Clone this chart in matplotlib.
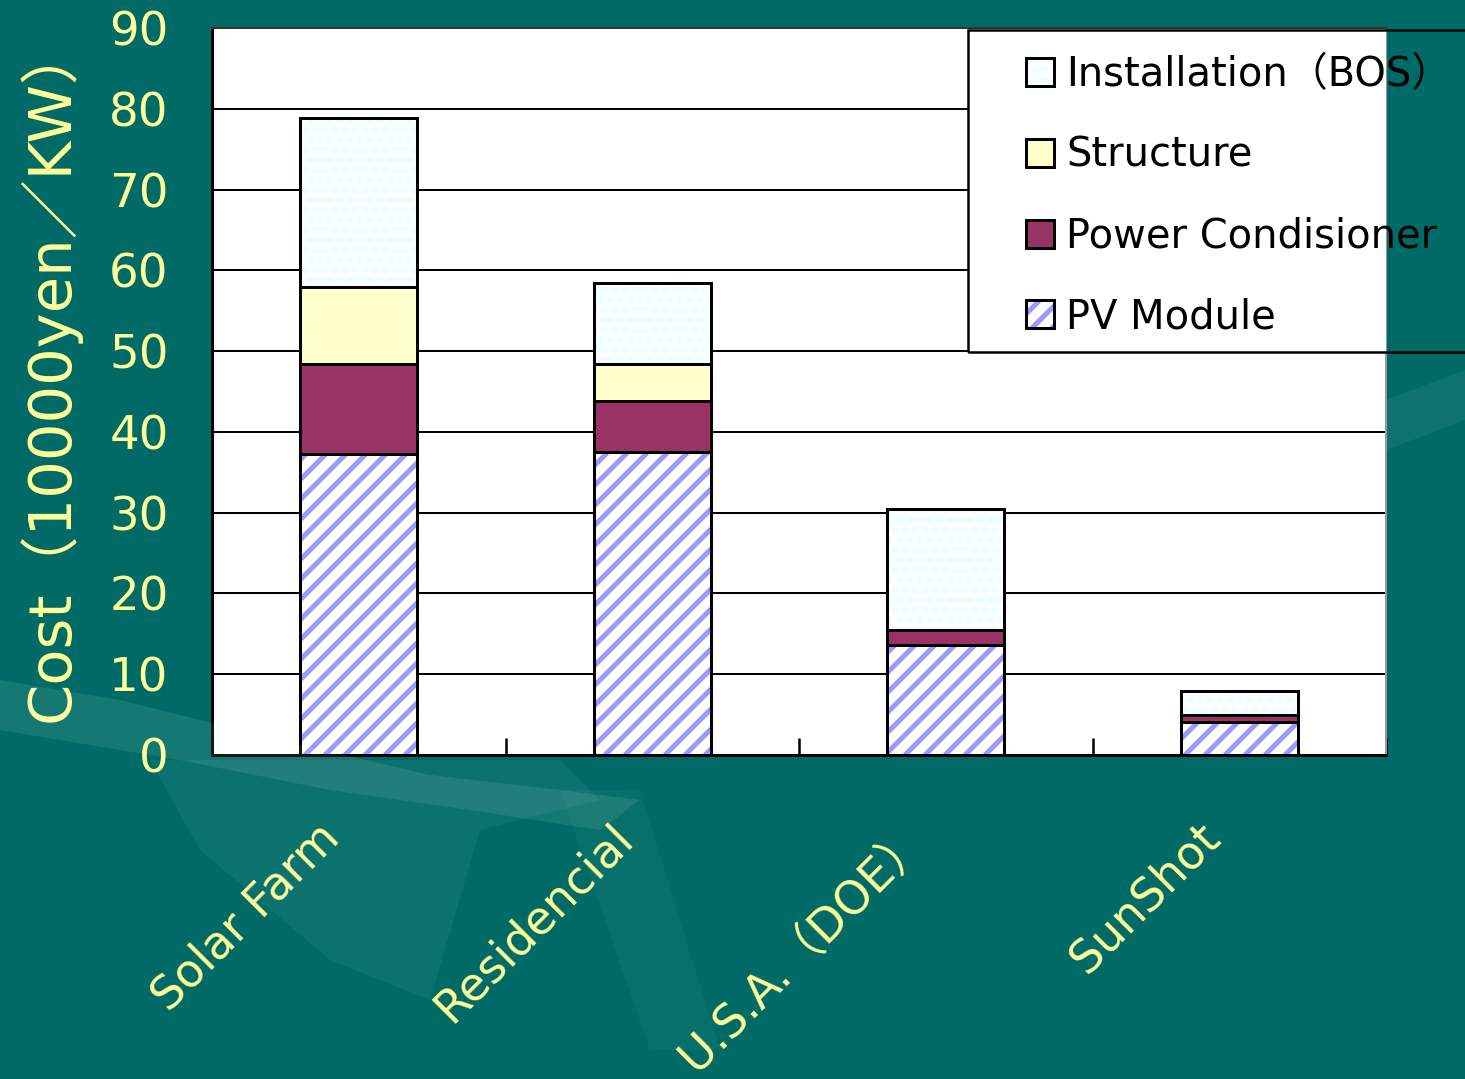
import matplotlib
matplotlib.use('Agg')
import matplotlib.pyplot as plt
import numpy as np
from matplotlib.patches import Rectangle, Polygon
from matplotlib.legend_handler import HandlerTuple
from matplotlib.transforms import ScaledTranslation

plt.rcParams['font.family'] = ['DejaVu Sans', 'Noto Sans CJK JP']
plt.rcParams['hatch.linewidth'] = 3.0

# 構成別コスト（万円/kW）
categories = ['Solar Farm', 'Residencial', 'U.S.A.（DOE）', 'SunShot']
pv_module = [37.3, 37.5, 13.6, 4.1]
power_cond = [11.1, 6.3, 1.9, 0.9]
structure = [9.5, 4.6, 0.0, 0.0]
installation = [20.9, 10.0, 15.0, 2.9]
series_names = ['PV Module', 'Power Condisioner', 'Structure', 'Installation（BOS）']
yticks = list(range(0, 100, 10))

YELLOW = '#ffff99'
BG = '#006b66'

W, H = 1465, 1079
DPI = 120
fig = plt.figure(figsize=(W / DPI, H / DPI), dpi=DPI, facecolor=BG)

# 背景の模様（薄い帯）
def px(pts):
    return [(x / W, 1 - y / H) for x, y in pts]

deco = [
    (px([(0, 680), (120, 700), (300, 745), (430, 775), (560, 790), (640, 800),
         (600, 830), (470, 810), (330, 790), (180, 760), (0, 730)]), 0.09),
    (px([(150, 760), (560, 760), (600, 800), (480, 830), (430, 1000),
         (330, 960), (200, 850)]), 0.05),
    (px([(560, 790), (640, 790), (720, 1050), (650, 1050)]), 0.035),
    (px([(1386, 400), (1465, 370), (1465, 420), (1386, 450)]), 0.06),
]
for pts, a in deco:
    fig.patches.append(Polygon(pts, closed=True, transform=fig.transFigure,
                               facecolor='white', edgecolor='none', alpha=a, zorder=0))

ax = fig.add_axes([212 / W, 1 - 755 / H, (1386 - 212) / W, (755 - 28) / H])
ax.set_facecolor('white')

x = np.arange(len(categories)) + 0.5
width = 0.4
layers = [
    (pv_module, dict(facecolor='white', edgecolor='#9999ff', hatch='//')),
    (power_cond, dict(facecolor='#993366', edgecolor='#993366')),
    (structure, dict(facecolor='#ffffcc', edgecolor='#ffffcc')),
    (installation, dict(facecolor='white', edgecolor='#e6ffff', hatch='..')),
]

bottom = np.zeros(len(categories))
handles = []
for (vals, style), name in zip(layers, series_names):
    vals = np.array(vals)
    b1 = ax.bar(x, vals, width, bottom=bottom, linewidth=0, zorder=3, **style)
    b2 = ax.bar(x, vals, width, bottom=bottom, fill=False, edgecolor='black',
                linewidth=1.8, zorder=4)
    handles.append((b1.patches[0], b2.patches[0]))
    bottom += vals

ax.set_xlim(0, 4)
ax.set_ylim(0, 90)
ax.set_yticks(yticks)
ax.yaxis.grid(True, color='black', linewidth=1.2, zorder=1)
ax.set_axisbelow(True)
ax.tick_params(axis='y', length=0, pad=26, labelsize=28, labelcolor=YELLOW)

ax.set_xticks(range(5))
ax.set_xticklabels([])
ax.tick_params(axis='x', which='major', direction='in', length=10, width=1.5)
ax.set_xticks(x, minor=True)
ax.set_xticklabels(categories, minor=True, rotation=45, ha='right', va='top',
                   rotation_mode='anchor', fontsize=27.5, color=YELLOW)
ax.tick_params(axis='x', which='minor', length=0, pad=36)
for lab in ax.get_xticklabels(minor=True):
    lab.set_transform(lab.get_transform() + ScaledTranslation(-42 / DPI, 0, fig.dpi_scale_trans))

ax.set_ylabel('Cost（10000yen／KW）', fontsize=35.5, color=YELLOW)
ax.yaxis.set_label_coords(-0.112, 0.527)

for s in ['left', 'bottom']:
    ax.spines[s].set_linewidth(1.8)
    ax.spines[s].set_color('black')
ax.spines['top'].set_color('#333333')
ax.spines['top'].set_linewidth(1.2)
ax.spines['right'].set_color('#999999')
ax.spines['right'].set_linewidth(1.2)

# 凡例：白地はプロット領域内だけ、枠線は右端まで
lx0, ly0, ly1 = 968, 30, 352
fill = Rectangle((lx0 / W, 1 - ly1 / H), (W - lx0) / W, (ly1 - ly0) / H,
                 transform=fig.transFigure, facecolor='white', edgecolor='none', zorder=5)
ax.add_patch(fill)
fig.patches.append(Rectangle((lx0 / W, 1 - ly1 / H), (W + 10 - lx0) / W, (ly1 - ly0) / H,
                             transform=fig.transFigure, facecolor='none',
                             edgecolor='black', linewidth=1.5, zorder=10))

leg = fig.legend(handles[::-1], series_names[::-1], loc='upper left',
                 bbox_to_anchor=(1026 / W, 1 - 55 / H), frameon=False,
                 fontsize=24, handlelength=0.7, handleheight=0.7,
                 handletextpad=0.3, labelspacing=1.02, borderpad=0, borderaxespad=0,
                 handler_map={tuple: HandlerTuple(ndivide=1)})
leg.set_zorder(11)

fig.savefig('out.png', dpi=DPI, facecolor=BG)
